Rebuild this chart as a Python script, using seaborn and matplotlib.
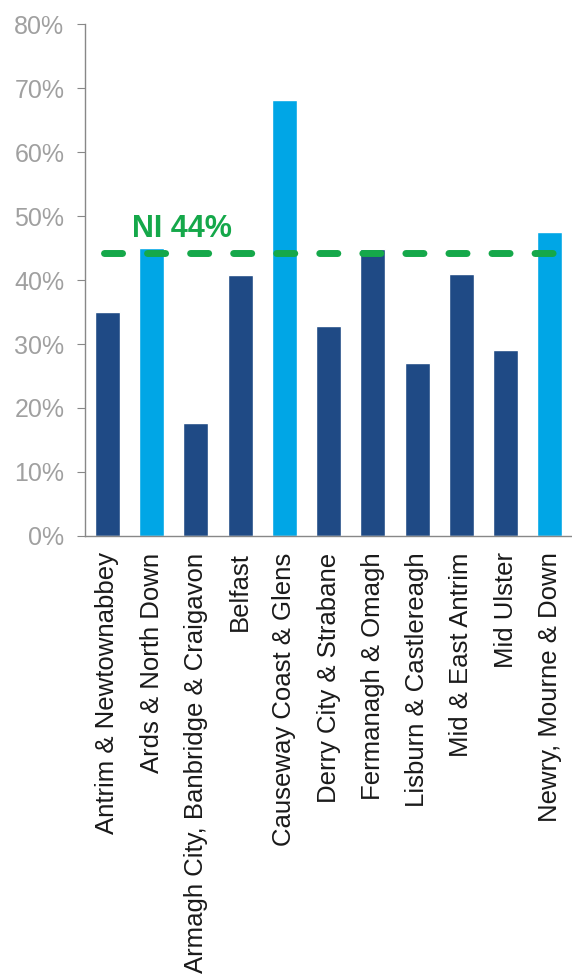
import numpy as np
import pandas as pd
import matplotlib
matplotlib.use("Agg")
import matplotlib.pyplot as plt
import seaborn as sns

# council areas and their share (%)
councils = [
    "Antrim & Newtownabbey",
    "Ards & North Down",
    "Armagh City, Banbridge & Craigavon",
    "Belfast",
    "Causeway Coast & Glens",
    "Derry City & Strabane",
    "Fermanagh & Omagh",
    "Lisburn & Castlereagh",
    "Mid & East Antrim",
    "Mid Ulster",
    "Newry, Mourne & Down",
]
values = [35, 45, 17.7, 40.8, 68.1, 32.9, 44.8, 27, 40.9, 29, 47.6]
above_ni = [False, True, False, False, True, False, False, False, False, False, True]
ni_average = 44.3
ni_label = "NI 44%"
y_ticks = [0, 10, 20, 30, 40, 50, 60, 70, 80]

df = pd.DataFrame({"council": councils, "value": values,
                   "group": ["above" if a else "below" for a in above_ni]})

sns.set_style("white")
plt.rcParams["font.family"] = ["Liberation Sans", "DejaVu Sans"]

fig = plt.figure(figsize=(5.72, 9.76), dpi=100)
ax = fig.add_axes([0.149, 0.451, 0.851, 0.524])

sns.barplot(data=df, x="council", y="value", hue="group", dodge=False,
            palette={"below": "#1f4a85", "above": "#00a6e6"},
            width=0.56, legend=False, ax=ax, saturation=1)

# NI average dashed line
ax.hlines(ni_average, -0.08, 10.15, colors="#15a84a", linewidth=5,
          linestyles=(0, (2.6, 3.6)), capstyle="round", zorder=5)
ax.text(0.55, ni_average + 1.3, ni_label, color="#15a84a", fontsize=22,
        fontweight="bold", ha="left", va="bottom")

ax.set_xlim(-0.5, 10.5)
ax.set_ylim(0, 80)
ax.set_yticks(y_ticks)
ax.set_yticklabels([f"{t}%" for t in y_ticks])
ax.set_xticks(range(len(councils)))
ax.set_xticklabels(councils, rotation=90, fontsize=18.5, color="#1a1a1a")
ax.set_xticks(np.arange(0.5, len(councils) - 0.5, 1), minor=True)
ax.tick_params(axis="x", which="major", length=0, pad=12)
ax.tick_params(axis="x", which="minor", length=5, color="#888888", direction="out")
ax.tick_params(axis="y", length=6, color="#888888", direction="out",
               labelsize=18, labelcolor="#a0a0a0", pad=9, left=True)
ax.set_xlabel("")
ax.set_ylabel("")

for side in ["top", "right"]:
    ax.spines[side].set_visible(False)
for side in ["left", "bottom"]:
    ax.spines[side].set_color("#888888")
    ax.spines[side].set_linewidth(1)

fig.savefig("out.png", dpi=100)
